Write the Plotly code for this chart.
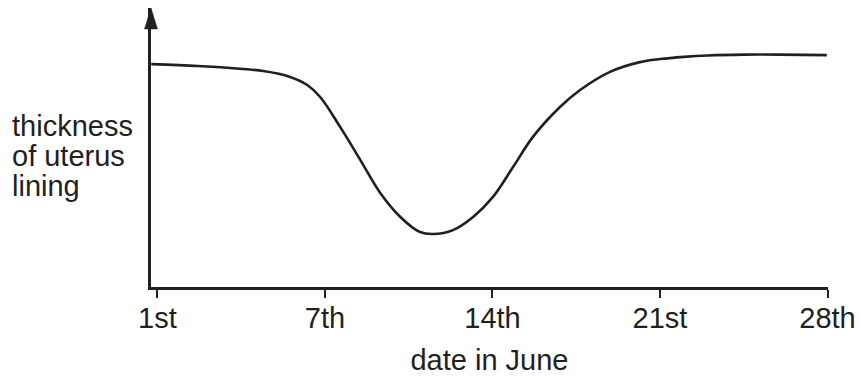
import plotly.graph_objects as go

# Data (x in days after the 1st, y in arbitrary thickness units)
day = [-0.26, 1.67, 3.04, 4.42, 5.54, 6.26, 6.80, 7.64, 8.48, 9.31, 10.15, 10.97,
       11.52, 12.35, 13.19, 14.02, 14.86, 15.69, 16.82, 17.66, 18.91, 20.16,
       21.0, 22.0, 23.0, 24.5, 26.0, 27.97]
thickness = [7.99, 7.92, 7.85, 7.74, 7.53, 7.24, 6.81, 5.73, 4.55, 3.37, 2.51, 1.97,
             1.90, 2.04, 2.51, 3.23, 4.30, 5.38, 6.45, 7.06, 7.71, 8.06,
             8.17, 8.25, 8.30, 8.33, 8.33, 8.31]
tick_vals = [0, 7, 14, 21, 28]
tick_text = ["1st", "7th", "14th", "21st", "28th"]
y_title_lines = ["thickness", "of uterus", "lining"]
x_title = "date in June"

INK = "#231f20"
FONT = "Liberation Sans, Arial, sans-serif"
FS = 29

fig = go.Figure()
fig.add_trace(go.Scatter(
    x=day, y=thickness, mode="lines",
    line=dict(color=INK, width=2.6, shape="spline", smoothing=1.0),
    hoverinfo="skip", showlegend=False,
))

fig.update_layout(
    width=860, height=376,
    margin=dict(l=151, r=32, t=8, b=89, autoexpand=False),
    paper_bgcolor="white", plot_bgcolor="white",
    font=dict(family=FONT, size=FS, color=INK),
    showlegend=False,
    xaxis=dict(
        range=[-0.27, 28.02], showgrid=False, zeroline=False,
        showline=True, linecolor=INK, linewidth=2.6, automargin=False,
        tickmode="array", tickvals=tick_vals, ticktext=tick_text,
        ticks="outside", ticklen=8, tickwidth=2.4, tickcolor=INK,
        ticklabelstandoff=-5,
        tickfont=dict(family=FONT, size=FS, color=INK),
        title=dict(text=x_title, font=dict(family=FONT, size=FS, color=INK), standoff=22),
    ),
    yaxis=dict(
        range=[0, 10], showgrid=False, zeroline=False, automargin=False,
        showline=True, linecolor=INK, linewidth=2.6,
        showticklabels=False, ticks="",
    ),
)

# arrowhead on top of the y axis
fig.add_shape(
    type="path", xref="paper", yref="paper",
    path="M 0 1 L -0.0096 0.9247 L 0.0096 0.9247 Z",
    fillcolor=INK, line=dict(color=INK, width=0.5),
)

# y-axis title as three left-aligned lines
for text, yc in zip(y_title_lines, [0.577, 0.4695, 0.362]):
    fig.add_annotation(
        text=text, xref="paper", yref="paper", x=-0.2083, y=yc,
        xanchor="left", yanchor="middle", showarrow=False,
        font=dict(family=FONT, size=FS, color=INK),
    )

fig.write_html(
    "out.html",
    config={"displayModeBar": False},
    post_script="document.body.style.margin='0';document.body.style.overflow='hidden';",
)
